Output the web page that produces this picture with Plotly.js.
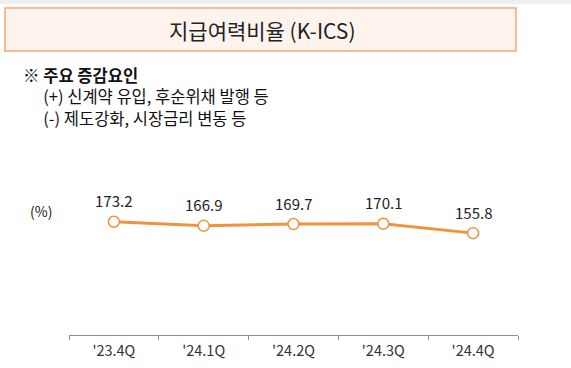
<!DOCTYPE html>
<html><head><meta charset="utf-8">
<script src="https://cdn.plot.ly/plotly-3.0.1.min.js"></script>
<style>html,body{margin:0;padding:0;background:#fff;}#c{width:571px;height:368px;}</style>
</head><body><div id="c"></div>
<script>
const quarters = ["'23.4Q", "'24.1Q", "'24.2Q", "'24.3Q", "'24.4Q"];
const kics = [173.2, 166.9, 169.7, 170.1, 155.8];
const labels = ["173.2", "166.9", "169.7", "170.1", "155.8"];
const titleText = "지급여력비율 (K-ICS)";
const noteHead = "※ 주요 증감요인";
const noteLines = ["(+) 신계약 유입, 후순위채 발행 등", "(-) 제도강화, 시장금리 변동 등"];
const unitLabel = "(%)";

const W = 571, H = 368, L = 69, R = 53, T = 165, B = 33;
const pw = W - L - R, ph = H - T - B;
const px = x => (x - L) / pw;
const py = y => (H - B - y) / ph;
const FONT = "Noto Sans CJK KR, Noto Sans, sans-serif";
const orange = "#f0923f";
const indent = "\u3000\u00a0";

const annotations = [];
annotations.push({xref:'paper', yref:'paper', x:px(262), y:py(30), text:titleText, showarrow:false,
  xanchor:'center', yanchor:'middle', font:{family:FONT, size:21, color:'#222'}});
const noteText = "<b>" + noteHead + "</b><br>" + noteLines.map(s => indent + s).join("<br>");
annotations.push({xref:'paper', yref:'paper', x:px(21), y:py(96), text:noteText, showarrow:false,
  xanchor:'left', yanchor:'middle', align:'left', font:{family:FONT, size:16.5, color:'#111'}});
annotations.push({xref:'paper', yref:'paper', x:px(41), y:py(211), text:unitLabel, showarrow:false,
  xanchor:'center', yanchor:'middle', font:{family:FONT, size:14, color:'#222'}});
quarters.forEach((q, i) => {
  annotations.push({x:q, y:kics[i], xref:'x', yref:'y', text:labels[i], showarrow:false,
    yshift:21, font:{family:FONT, size:15, color:'#222'}});
});

const shapes = [
  {type:'rect', xref:'paper', yref:'paper', x0:px(0), x1:px(571), y0:py(0), y1:py(4),
   fillcolor:'#eeeeee', line:{width:0}, layer:'below'},
  {type:'rect', xref:'paper', yref:'paper', x0:px(5), x1:px(516), y0:py(51), y1:py(8),
   fillcolor:'#fef4ed', line:{color:'#f6a868', width:1.5}, layer:'below'}
];

const trace = {
  x: quarters, y: kics, type:'scatter', mode:'lines+markers',
  line:{color:orange, width:3},
  marker:{size:11, color:'#ffffff', line:{color:orange, width:1.5}},
  cliponaxis:false, hoverinfo:'skip'
};

const layout = {
  width:W, height:H, margin:{l:L, r:R, t:T, b:B},
  paper_bgcolor:'#ffffff', plot_bgcolor:'rgba(0,0,0,0)',
  showlegend:false,
  xaxis:{type:'category', range:[-0.5, 4.5], showline:true, linecolor:'#8c8c8c', linewidth:1,
    ticks:'outside', tickson:'boundaries', ticklen:4, tickcolor:'#8c8c8c',
    showgrid:false, zeroline:false, fixedrange:true, ticklabelstandoff:3,
    tickfont:{family:FONT, size:14.5, color:'#333'}},
  yaxis:{range:[0, 260], visible:false, showgrid:false, zeroline:false, fixedrange:true},
  annotations, shapes
};
Plotly.newPlot('c', [trace], layout, {displayModeBar:false, staticPlot:true});
</script></body></html>
